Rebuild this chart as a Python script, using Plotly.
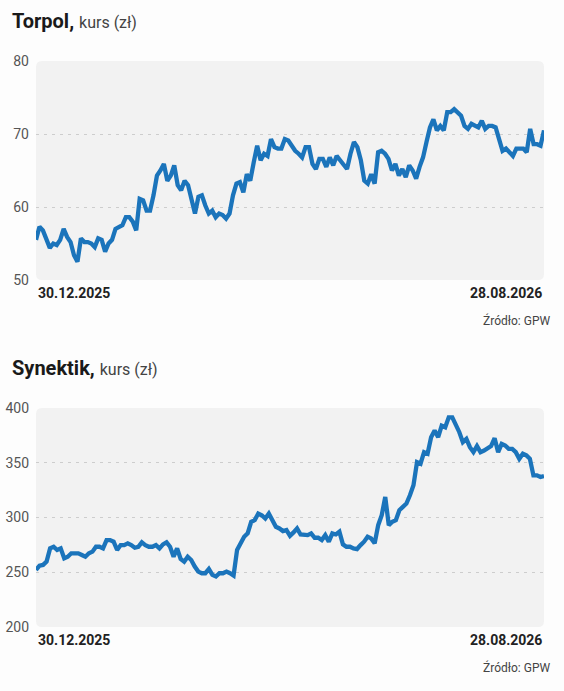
"""Two stock price panels: Torpol and Synektik, GPW quotes."""

import pandas as pd
import plotly.graph_objects as go

START = "2025-12-30"
END = "2026-08-28"

torpol_close = [
    55.5, 57.3, 56.8, 55.7, 54.4, 55.0, 54.8, 55.5, 57.0, 55.9, 55.2, 53.4, 52.5,
    55.7, 55.2, 55.2, 55.0, 54.5, 55.7, 55.5, 53.9, 55.0, 55.5, 57.0, 57.3, 57.5,
    58.6, 58.6, 58.0, 56.8, 61.1, 60.9, 59.5, 59.5, 61.6, 64.3, 65.0, 65.9, 63.6,
    64.3, 65.7, 63.0, 62.3, 63.6, 63.0, 60.7, 59.1, 61.4, 61.6, 60.2, 59.1, 59.5,
    58.6, 59.1, 58.9, 58.4, 59.1, 61.6, 63.2, 63.4, 62.0, 64.5, 63.6, 66.1, 68.4,
    66.4, 67.3, 67.0, 69.3, 68.2, 68.0, 68.0, 69.3, 69.1, 68.4, 67.7, 67.3, 66.8,
    68.2, 68.2, 65.9, 65.2, 66.6, 66.6, 65.5, 66.8, 65.7, 67.0, 66.4, 65.9, 65.2,
    67.3, 68.9, 68.2, 66.4, 63.6, 63.2, 64.5, 63.2, 67.5, 67.7, 67.3, 66.6, 65.0,
    65.9, 64.3, 65.2, 64.1, 65.7, 65.0, 63.9, 65.5, 66.8, 68.9, 70.9, 72.0, 70.5,
    71.1, 70.5, 73.0, 73.0, 73.4, 73.0, 72.5, 71.1, 70.7, 71.4, 71.1, 70.9, 71.8,
    70.7, 71.1, 71.1, 70.9, 69.5, 67.7, 68.0, 67.5, 67.0, 68.0, 68.0, 68.0, 67.5,
    70.7, 68.6, 68.6, 68.4, 70.5,
]

synektik_close = [
    252.1, 256.0, 256.7, 259.7, 271.8, 273.3, 270.3, 271.8, 262.7, 264.2, 267.3,
    267.3, 267.3, 265.8, 264.2, 267.3, 268.8, 273.3, 273.3, 271.8, 279.4, 279.4,
    277.9, 270.3, 274.8, 274.8, 276.4, 274.8, 272.4, 273.3, 277.3, 274.8, 273.3,
    273.3, 274.8, 271.8, 275.5, 277.3, 273.3, 264.2, 271.8, 262.1, 259.7, 264.2,
    261.2, 255.2, 250.6, 249.1, 249.1, 253.0, 247.6, 246.1, 249.1, 249.1, 250.6,
    249.1, 247.0, 270.3, 276.4, 282.4, 285.5, 296.1, 297.6, 303.6, 302.1, 299.1,
    303.6, 297.6, 291.5, 290.0, 287.6, 288.5, 283.3, 286.4, 290.0, 284.5, 283.9,
    283.9, 285.5, 281.5, 281.5, 279.4, 283.9, 277.9, 285.5, 284.5, 287.0, 275.5,
    273.3, 273.3, 271.8, 271.2, 274.8, 277.9, 282.4, 280.9, 276.4, 293.0, 302.1,
    318.8, 293.0, 296.1, 297.6, 306.7, 309.7, 312.7, 320.3, 329.4, 350.6, 349.1,
    359.7, 358.2, 373.3, 379.4, 373.3, 383.9, 382.4, 391.5, 391.5, 385.5, 377.9,
    368.8, 371.8, 364.2, 359.7, 365.2, 359.7, 361.2, 362.7, 365.2, 372.4, 359.7,
    367.3, 365.8, 362.7, 362.7, 359.7, 353.6, 358.2, 356.7, 353.6, 338.5, 338.5,
    337.0, 337.9,
]

panels = [
    ("Torpol,", torpol_close, [50, 60, 70, 80], [60, 70]),
    ("Synektik,", synektik_close, [200, 250, 300, 350, 400], [250, 300, 350]),
]
start_label = "30.12.2025"
end_label = "28.08.2026"
source_label = "Źródło: GPW"

W, H = 564, 691
FONT = "Roboto, Liberation Sans, sans-serif"
BLUE = "#1b74bb"
BOX = "#f2f2f2"

# pixel boxes of the two plot areas (left, right, top, bottom)
boxes = [(36, 544, 61, 280), (36, 544, 408, 627)]


def px(x):
    return x / W


def py(y):
    return 1 - y / H


def rounded_rect(x0, x1, y0, y1, r=6):
    a, b = px(x0), px(x1)
    top, bot = py(y0), py(y1)
    rx, ry = r / W, r / H
    return (
        f"M{a + rx},{top} L{b - rx},{top} Q{b},{top} {b},{top - ry} "
        f"L{b},{bot + ry} Q{b},{bot} {b - rx},{bot} "
        f"L{a + rx},{bot} Q{a},{bot} {a},{bot + ry} "
        f"L{a},{top - ry} Q{a},{top} {a + rx},{top} Z"
    )


fig = go.Figure()
annotations = []
shapes = []

for i, (name, values, ticks, grid) in enumerate(panels):
    n = i + 1
    xa = "x" if n == 1 else f"x{n}"
    ya = "y" if n == 1 else f"y{n}"
    dates = pd.date_range(START, END, periods=len(values))
    left, right, top, bottom = boxes[i]

    fig.add_trace(go.Scatter(
        x=dates, y=values, mode="lines", xaxis=xa, yaxis=ya,
        line=dict(color=BLUE, width=4.3), hoverinfo="skip", showlegend=False,
    ))

    xkey = "xaxis" if n == 1 else f"xaxis{n}"
    ykey = "yaxis" if n == 1 else f"yaxis{n}"
    fig.update_layout({
        xkey: dict(
            domain=[px(left), px(right)], anchor=ya, automargin=False,
            range=[dates[0], dates[-1]], visible=False,
        ),
        ykey: dict(
            domain=[py(bottom), py(top)], anchor=xa, automargin=False,
            range=[ticks[0], ticks[-1]], tickvals=ticks,
            showgrid=False, zeroline=False, showline=False, ticks="",
            ticklabelstandoff=6,
            tickfont=dict(family=FONT, size=14, color="#555555"),
            minor=dict(
                tickvals=grid, showgrid=True, ticks="",
                gridcolor="#cdcdcd", griddash="3px,5px", gridwidth=1.3,
            ),
        ),
    })

    shapes.append(dict(
        type="path", xref="paper", yref="paper", layer="below",
        path=rounded_rect(left, right, top, bottom),
        fillcolor=BOX, line=dict(width=0),
    ))

    title_y = py(21 if i == 0 else 368)
    annotations.append(dict(
        xref="paper", yref="paper", x=px(10), y=title_y,
        xanchor="left", yanchor="middle", showarrow=False,
        text=(f"<b>{name}</b> <span style='font-size:16px;color:#444444'>"
              f"kurs (zł)</span>"),
        font=dict(family=FONT, size=20, color="#1a1a1a"),
    ))
    for d, lab, anchor in [(dates[0], start_label, "left"),
                           (dates[-1], end_label, "right")]:
        annotations.append(dict(
            xref=xa, yref="paper", x=d, y=py(bottom + 3),
            xanchor=anchor, yanchor="top", showarrow=False,
            text=f"<b>{lab}</b>",
            font=dict(family=FONT, size=14, color="#222222"),
        ))
    annotations.append(dict(
        xref="paper", yref="paper", x=px(552), y=py(bottom + 40),
        xanchor="right", yanchor="middle", showarrow=False,
        text=source_label, font=dict(family=FONT, size=12, color="#444444"),
    ))

fig.update_layout(
    width=W, height=H,
    margin=dict(l=0, r=0, t=0, b=0),
    paper_bgcolor="#fdfdfd", plot_bgcolor="rgba(0,0,0,0)",
    shapes=shapes, annotations=annotations,
)

fig.write_html(
    "out.html",
    config={"displayModeBar": False},
    post_script="document.body.style.margin='0';",
)
